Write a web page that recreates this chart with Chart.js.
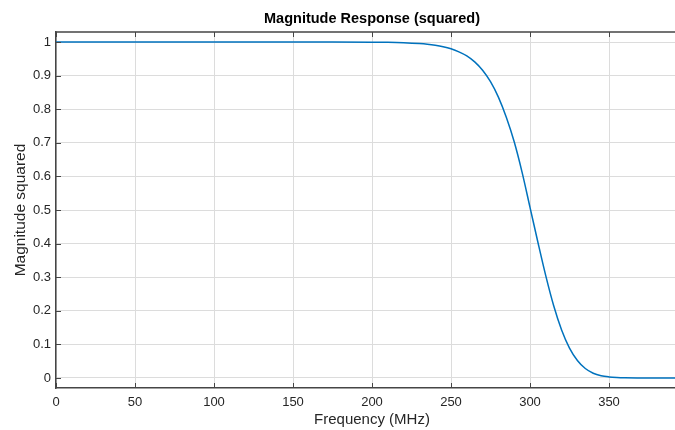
<!DOCTYPE html>
<html>
<head>
<meta charset="utf-8">
<script src="https://cdn.jsdelivr.net/npm/chart.js@4.4.1/dist/chart.umd.min.js"></script>
<style>
  html, body { margin: 0; padding: 0; background: #ffffff; overflow: hidden; }
  #wrap { width: 700px; height: 430px; position: relative; }
</style>
</head>
<body>
<div id="wrap"><canvas id="c" width="700" height="430"></canvas></div>
<script>
// Frequency (MHz)
const freq = [0, 25, 50, 75, 100, 125, 150, 175, 200, 210, 220, 230, 235, 240, 245, 250, 255, 260, 265, 270, 275, 280, 285, 290, 295, 300, 305, 310, 315, 320, 325, 330, 335, 340, 345, 350, 355, 360, 370, 380, 390, 400];
// Magnitude squared
const magSq = [1, 1, 1, 1, 1, 1, 1, 1, 0.9998, 0.9993, 0.998, 0.9955, 0.9935, 0.9905, 0.9862, 0.980, 0.971, 0.959, 0.941, 0.916, 0.882, 0.836, 0.776, 0.703, 0.612, 0.508, 0.404, 0.304, 0.215, 0.143, 0.089, 0.052, 0.028, 0.014, 0.0065, 0.003, 0.0013, 0.0005, 0.0001, 0, 0, 0];
const xTicks = [0, 50, 100, 150, 200, 250, 300, 350];
const yTicks = [0, 0.1, 0.2, 0.3, 0.4, 0.5, 0.6, 0.7, 0.8, 0.9, 1];

const axisColor = '#454545';
const textColor = '#262626';
const gridColor = '#dcdcdc';
const fam = 'Liberation Sans, Arial, sans-serif';

const inwardTicks = {
  id: 'inwardTicks',
  afterDraw(chart) {
    const ctx = chart.ctx;
    const a = chart.chartArea;
    const xs = chart.scales.x, ys = chart.scales.y;
    ctx.save();
    ctx.strokeStyle = axisColor;
    ctx.lineWidth = 1.5;
    ctx.beginPath();
    ctx.moveTo(a.left, a.top);
    ctx.lineTo(a.right, a.top);
    ctx.stroke();
    ctx.lineWidth = 1;
    ctx.beginPath();
    xTicks.forEach(v => {
      const px = Math.round(xs.getPixelForValue(v)) + 0.5;
      ctx.moveTo(px, a.bottom); ctx.lineTo(px, a.bottom - 5);
      ctx.moveTo(px, a.top); ctx.lineTo(px, a.top + 5);
    });
    yTicks.forEach(v => {
      const py = Math.round(ys.getPixelForValue(v)) + 0.5;
      ctx.moveTo(a.left, py); ctx.lineTo(a.left + 5, py);
    });
    ctx.stroke();
    ctx.restore();
  }
};

new Chart(document.getElementById('c'), {
  type: 'line',
  data: {
    datasets: [{
      data: freq.map((f, i) => ({ x: f, y: magSq[i] })),
      borderColor: '#0072BD',
      borderWidth: 1.5,
      pointRadius: 0,
      fill: false,
      cubicInterpolationMode: 'monotone'
    }]
  },
  options: {
    responsive: false,
    animation: false,
    devicePixelRatio: 1,
    layout: { padding: { left: 0, right: 12, top: 0, bottom: 0 } },
    plugins: {
      legend: { display: false },
      tooltip: { enabled: false },
      title: {
        display: true,
        text: 'Magnitude Response (squared)',
        fullSize: false,
        color: '#000000',
        font: { family: fam, size: 14.5, weight: 'bold', lineHeight: 1.2 },
        padding: { top: 10, bottom: 4.6 }
      }
    },
    scales: {
      x: {
        type: 'linear',
        min: 0,
        max: 400,
        afterBuildTicks(s) { s.ticks = xTicks.map(v => ({ value: v })); },
        ticks: {
          color: textColor,
          padding: 7,
          font: { family: fam, size: 13 },
          maxRotation: 0,
          autoSkip: false
        },
        grid: { color: gridColor, lineWidth: 1, drawTicks: false },
        border: { color: axisColor, width: 1.5 },
        title: {
          display: true,
          text: 'Frequency (MHz)',
          color: textColor,
          font: { family: fam, size: 15 },
          padding: { top: 1, bottom: 1 }
        },
        afterFit(s) { s.height = 42; }
      },
      y: {
        type: 'linear',
        min: -0.03,
        max: 1.03,
        afterBuildTicks(s) { s.ticks = yTicks.map(v => ({ value: v })); },
        ticks: {
          color: textColor,
          padding: 5,
          font: { family: fam, size: 13 },
          callback: v => String(Math.round(v * 10) / 10),
          autoSkip: false
        },
        grid: { color: gridColor, lineWidth: 1, drawTicks: false },
        border: { color: axisColor, width: 1.5 },
        title: {
          display: true,
          text: 'Magnitude squared',
          color: textColor,
          font: { family: fam, size: 15.5 },
          padding: { top: 11, bottom: 2 }
        },
        afterFit(s) { s.width = 56; }
      }
    }
  },
  plugins: [inwardTicks]
});
</script>
</body>
</html>
